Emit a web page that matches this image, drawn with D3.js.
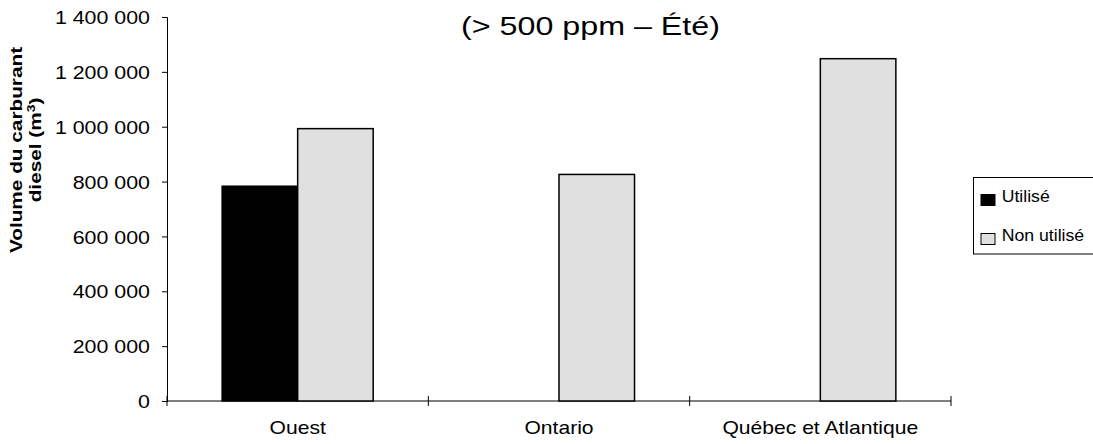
<!DOCTYPE html>
<html>
<head>
<meta charset="utf-8">
<script src="https://cdn.jsdelivr.net/npm/d3@7"></script>
<style>
  html, body { margin: 0; padding: 0; background: #fff; }
  svg { display: block; font-family: "Liberation Sans", Arial, sans-serif; }
</style>
</head>
<body>
<svg id="chart" width="1093" height="444"></svg>
<script>
// Diesel fuel volume by region, > 500 ppm, summer
const regions = ["Ouest", "Ontario", "Québec et Atlantique"];
const seriesNames = ["Utilisé", "Non utilisé"];
const utilise = [783000, 0, 0];
const nonUtilise = [993000, 826000, 1248000];
const yTicks = [0, 200000, 400000, 600000, 800000, 1000000, 1200000, 1400000];
const seriesColors = ["#000000", "#e0e0e0"];

const svg = d3.select("#chart");
const plot = { left: 167, right: 951, top: 17, bottom: 401 };

// Widen glyphs horizontally by factor k, keeping each label's anchor
function widen(sel, k) {
  sel.each(function () {
    const len = this.getComputedTextLength();
    d3.select(this).attr("textLength", len * k).attr("lengthAdjust", "spacingAndGlyphs");
  });
}

const x = d3.scaleBand().domain(regions).range([plot.left, plot.right]).padding(0);
const xInner = d3.scaleBand().domain(seriesNames).range([0, x.bandwidth()])
  .paddingInner(0).paddingOuter(0.73);
const y = d3.scaleLinear().domain([0, 1400000]).range([plot.bottom, plot.top]);

const fr = d3.formatLocale({ decimal: ",", thousands: " ", grouping: [3], currency: ["", " $"] });
const fmt = fr.format(",d");

// Y axis
const yAxis = svg.append("g")
  .attr("transform", `translate(${plot.left},0)`)
  .call(d3.axisLeft(y).tickValues(yTicks).tickFormat(fmt).tickSize(5).tickPadding(12));
yAxis.select(".domain").attr("stroke", "#000").attr("stroke-width", 1);
yAxis.selectAll(".tick line").attr("stroke", "#000");
yAxis.selectAll(".tick text")
  .attr("fill", "#000")
  .attr("font-size", 18.6)
  .attr("font-family", "Liberation Sans, Arial, sans-serif")
  .attr("dy", "0.36em")
  .call(widen, 1.15);

// X axis: line along zero with ticks at the category boundaries
const boundaries = regions.map(r => x(r)).concat([x(regions[regions.length - 1]) + x.bandwidth()]);
const xAxis = svg.append("g");
xAxis.append("line")
  .attr("x1", plot.left).attr("x2", plot.right)
  .attr("y1", y(0)).attr("y2", y(0))
  .attr("stroke", "#000");
xAxis.selectAll("line.bt").data(boundaries).join("line")
  .attr("class", "bt")
  .attr("x1", d => d).attr("x2", d => d)
  .attr("y1", y(0) - 5).attr("y2", y(0) + 5)
  .attr("stroke", "#000");
xAxis.selectAll("text").data(regions).join("text")
  .attr("x", d => x(d) + x.bandwidth() / 2)
  .attr("y", y(0) + 33)
  .attr("text-anchor", "middle")
  .attr("font-size", 18.5)
  .text(d => d)
  .call(widen, 1.14);

// Bars
const data = regions.map((r, i) => ({ region: r, values: [utilise[i], nonUtilise[i]] }));
const groups = svg.append("g").selectAll("g").data(data).join("g")
  .attr("transform", d => `translate(${x(d.region)},0)`);
groups.selectAll("rect")
  .data(d => d.values.map((v, j) => ({ key: seriesNames[j], value: v, color: seriesColors[j] })))
  .join("rect")
  .filter(d => d.value > 0)
  .attr("x", d => xInner(d.key))
  .attr("width", xInner.bandwidth())
  .attr("y", d => y(d.value))
  .attr("height", d => y(0) - y(d.value))
  .attr("fill", d => d.color)
  .attr("stroke", "#000")
  .attr("stroke-width", 1.5);

// Title
svg.append("text")
  .attr("x", 590.5).attr("y", 35)
  .attr("text-anchor", "middle")
  .attr("font-size", 26)
  .text("(> 500 ppm – Été)")
  .call(widen, 1.24);

// Y axis title, two lines
const yTitle = svg.append("text")
  .attr("transform", "translate(22,150) rotate(-90) scale(1.26,1)")
  .attr("text-anchor", "middle")
  .attr("font-weight", "bold")
  .attr("font-size", 16.5);
yTitle.append("tspan").attr("x", 0).attr("dy", 0).text("Volume du carburant");
const line2 = yTitle.append("tspan").attr("x", 0).attr("dy", 19);
line2.append("tspan").text("diesel (m");
line2.append("tspan").attr("dy", -6).attr("font-size", 11).text("3");
line2.append("tspan").attr("dy", 6).text(")");

// Legend
const legend = svg.append("g");
legend.append("rect")
  .attr("x", 973.5).attr("y", 177.5).attr("width", 130).attr("height", 76.5)
  .attr("fill", "#fff").attr("stroke", "#000").attr("stroke-width", 1);
const items = legend.selectAll("g").data(seriesNames).join("g")
  .attr("transform", (d, i) => `translate(981,${194.5 + i * 39})`);
items.append("rect")
  .attr("width", 14).attr("height", 11)
  .attr("fill", (d, i) => seriesColors[i])
  .attr("stroke", "#000").attr("stroke-width", 1);
items.append("text")
  .attr("x", 20.7).attr("y", 7.5)
  .attr("font-size", 16.5)
  .text(d => d)
  .call(widen, 1.07);
</script>
</body>
</html>
